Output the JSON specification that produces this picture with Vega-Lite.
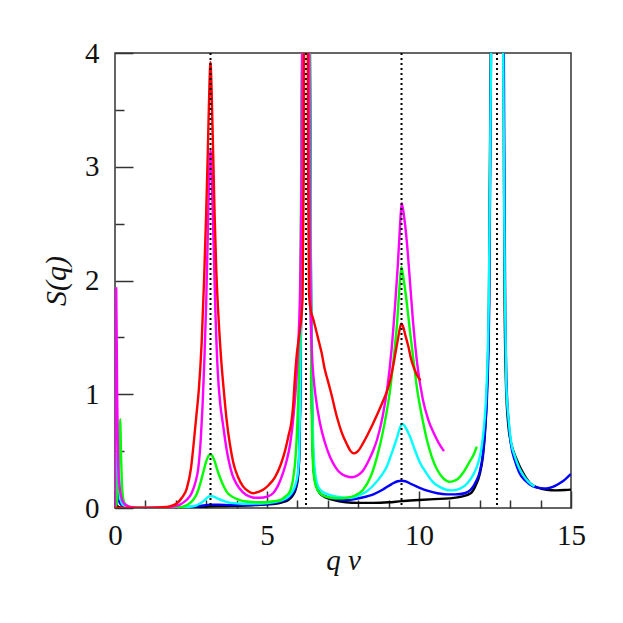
{
"$schema": "https://vega.github.io/schema/vega-lite/v6.json",
"width": 456, "height": 455,
"autosize": {"type": "none"},
"padding": {"left": 115, "top": 53, "right": 52, "bottom": 115},
"background": "white",
"config": {
 "view": {"stroke": "#333", "strokeWidth": 1.5},
 "axis": {"domain": false, "grid": false, "labelFont": "Liberation Serif", "labelFontSize": 29, "labelColor": "#111",
  "titleFont": "Liberation Serif", "titleFontSize": 30, "titleFontWeight": "normal", "titleFontStyle": "italic", "titleColor": "#111",
  "tickColor": "#333", "tickWidth": 1.5, "labelFlush": false, "labelOverlap": false}
},
"datasets": {
 "curves": [
{"c":"k","q":0,"S":0},{"c":"k","q":0.03,"S":0.06},{"c":"k","q":0.07,"S":0.02},{"c":"k","q":0.15,"S":0.005},{"c":"k","q":0.5,"S":0},{"c":"k","q":1,"S":0},{"c":"k","q":2,"S":0.003},{"c":"k","q":2.6,"S":0.008},{"c":"k","q":3.14,"S":0.015},{"c":"k","q":3.7,"S":0.018},{"c":"k","q":4.3,"S":0.022},{"c":"k","q":4.8,"S":0.028},{"c":"k","q":5.2,"S":0.035},{"c":"k","q":5.5,"S":0.05},{"c":"k","q":5.7,"S":0.07},{"c":"k","q":5.85,"S":0.11},{"c":"k","q":5.95,"S":0.17},{"c":"k","q":6.02,"S":0.27},{"c":"k","q":6.06,"S":0.45},{"c":"k","q":6.09,"S":0.9},{"c":"k","q":6.12,"S":1.7},{"c":"k","q":6.16,"S":4},{"c":"k","q":6.2,"S":8},{"c":"k","q":6.24,"S":15},{"c":"k","q":6.283,"S":30},{"c":"k","q":6.33,"S":15},{"c":"k","q":6.37,"S":8},{"c":"k","q":6.41,"S":4},{"c":"k","q":6.45,"S":1.7},{"c":"k","q":6.48,"S":0.9},{"c":"k","q":6.51,"S":0.5},{"c":"k","q":6.55,"S":0.3},{"c":"k","q":6.62,"S":0.2},{"c":"k","q":6.74,"S":0.13},{"c":"k","q":6.95,"S":0.09},{"c":"k","q":7.2,"S":0.07},{"c":"k","q":7.6,"S":0.05},{"c":"k","q":8.0,"S":0.045},{"c":"k","q":8.5,"S":0.045},{"c":"k","q":9.0,"S":0.05},{"c":"k","q":9.42,"S":0.06},{"c":"k","q":10.0,"S":0.07},{"c":"k","q":10.5,"S":0.078},{"c":"k","q":11.0,"S":0.085},{"c":"k","q":11.4,"S":0.1},{"c":"k","q":11.7,"S":0.13},{"c":"k","q":11.85,"S":0.19},{"c":"k","q":12.0,"S":0.3},{"c":"k","q":12.1,"S":0.45},{"c":"k","q":12.17,"S":0.66},{"c":"k","q":12.23,"S":1.0},{"c":"k","q":12.3,"S":1.8},{"c":"k","q":12.36,"S":4},{"c":"k","q":12.45,"S":10},{"c":"k","q":12.566,"S":30},{"c":"k","q":12.69,"S":10},{"c":"k","q":12.78,"S":4},{"c":"k","q":12.81,"S":2},{"c":"k","q":12.86,"S":1.1},{"c":"k","q":12.93,"S":0.75},{"c":"k","q":13.02,"S":0.58},{"c":"k","q":13.12,"S":0.49},{"c":"k","q":13.24,"S":0.41},{"c":"k","q":13.4,"S":0.32},{"c":"k","q":13.65,"S":0.22},{"c":"k","q":13.9,"S":0.18},{"c":"k","q":14.2,"S":0.16},{"c":"k","q":14.5,"S":0.155},{"c":"k","q":14.8,"S":0.158},{"c":"k","q":15,"S":0.162},
{"c":"b","q":0,"S":0},{"c":"b","q":0.03,"S":0.15},{"c":"b","q":0.06,"S":0.16},{"c":"b","q":0.1,"S":0.08},{"c":"b","q":0.15,"S":0.05},{"c":"b","q":0.2,"S":0.03},{"c":"b","q":0.3,"S":0.015},{"c":"b","q":0.45,"S":0.006},{"c":"b","q":0.7,"S":0.001},{"c":"b","q":1.5,"S":0},{"c":"b","q":2.2,"S":0.004},{"c":"b","q":2.6,"S":0.012},{"c":"b","q":2.9,"S":0.022},{"c":"b","q":3.14,"S":0.03},{"c":"b","q":3.4,"S":0.03},{"c":"b","q":3.8,"S":0.025},{"c":"b","q":4.3,"S":0.026},{"c":"b","q":4.8,"S":0.032},{"c":"b","q":5.2,"S":0.042},{"c":"b","q":5.5,"S":0.06},{"c":"b","q":5.7,"S":0.085},{"c":"b","q":5.85,"S":0.13},{"c":"b","q":5.95,"S":0.19},{"c":"b","q":6.02,"S":0.29},{"c":"b","q":6.06,"S":0.47},{"c":"b","q":6.09,"S":0.9},{"c":"b","q":6.12,"S":1.7},{"c":"b","q":6.16,"S":4},{"c":"b","q":6.2,"S":8},{"c":"b","q":6.24,"S":15},{"c":"b","q":6.283,"S":30},{"c":"b","q":6.33,"S":15},{"c":"b","q":6.37,"S":8},{"c":"b","q":6.41,"S":4},{"c":"b","q":6.45,"S":1.7},{"c":"b","q":6.48,"S":0.9},{"c":"b","q":6.51,"S":0.5},{"c":"b","q":6.55,"S":0.3},{"c":"b","q":6.62,"S":0.2},{"c":"b","q":6.74,"S":0.13},{"c":"b","q":6.95,"S":0.1},{"c":"b","q":7.2,"S":0.08},{"c":"b","q":7.5,"S":0.07},{"c":"b","q":7.8,"S":0.075},{"c":"b","q":8.1,"S":0.09},{"c":"b","q":8.5,"S":0.12},{"c":"b","q":8.8,"S":0.16},{"c":"b","q":9.1,"S":0.21},{"c":"b","q":9.3,"S":0.235},{"c":"b","q":9.42,"S":0.24},{"c":"b","q":9.55,"S":0.235},{"c":"b","q":9.75,"S":0.21},{"c":"b","q":10.0,"S":0.18},{"c":"b","q":10.3,"S":0.15},{"c":"b","q":10.6,"S":0.13},{"c":"b","q":10.9,"S":0.12},{"c":"b","q":11.2,"S":0.12},{"c":"b","q":11.5,"S":0.13},{"c":"b","q":11.7,"S":0.16},{"c":"b","q":11.85,"S":0.22},{"c":"b","q":12.0,"S":0.32},{"c":"b","q":12.1,"S":0.47},{"c":"b","q":12.17,"S":0.68},{"c":"b","q":12.24,"S":1.0},{"c":"b","q":12.31,"S":1.8},{"c":"b","q":12.37,"S":4},{"c":"b","q":12.46,"S":10},{"c":"b","q":12.566,"S":30},{"c":"b","q":12.68,"S":10},{"c":"b","q":12.79,"S":4},{"c":"b","q":12.83,"S":2},{"c":"b","q":12.88,"S":1.1},{"c":"b","q":12.95,"S":0.75},{"c":"b","q":13.03,"S":0.55},{"c":"b","q":13.15,"S":0.42},{"c":"b","q":13.3,"S":0.31},{"c":"b","q":13.5,"S":0.24},{"c":"b","q":13.75,"S":0.19},{"c":"b","q":14.0,"S":0.175},{"c":"b","q":14.2,"S":0.172},{"c":"b","q":14.4,"S":0.185},{"c":"b","q":14.64,"S":0.22},{"c":"b","q":14.8,"S":0.25},{"c":"b","q":15,"S":0.3},
{"c":"c","q":0,"S":0},{"c":"c","q":0.04,"S":0.15},{"c":"c","q":0.09,"S":0.5},{"c":"c","q":0.13,"S":0.3},{"c":"c","q":0.18,"S":0.08},{"c":"c","q":0.25,"S":0.03},{"c":"c","q":0.4,"S":0.01},{"c":"c","q":0.7,"S":0.002},{"c":"c","q":1.5,"S":0},{"c":"c","q":2.0,"S":0.003},{"c":"c","q":2.3,"S":0.008},{"c":"c","q":2.57,"S":0.015},{"c":"c","q":2.8,"S":0.04},{"c":"c","q":2.95,"S":0.07},{"c":"c","q":3.05,"S":0.095},{"c":"c","q":3.14,"S":0.105},{"c":"c","q":3.25,"S":0.1},{"c":"c","q":3.4,"S":0.08},{"c":"c","q":3.6,"S":0.06},{"c":"c","q":3.8,"S":0.045},{"c":"c","q":4.2,"S":0.038},{"c":"c","q":4.8,"S":0.04},{"c":"c","q":5.2,"S":0.05},{"c":"c","q":5.5,"S":0.07},{"c":"c","q":5.7,"S":0.1},{"c":"c","q":5.85,"S":0.15},{"c":"c","q":5.95,"S":0.22},{"c":"c","q":6.02,"S":0.32},{"c":"c","q":6.06,"S":0.5},{"c":"c","q":6.09,"S":0.95},{"c":"c","q":6.12,"S":1.8},{"c":"c","q":6.16,"S":4},{"c":"c","q":6.2,"S":8},{"c":"c","q":6.24,"S":15},{"c":"c","q":6.283,"S":30},{"c":"c","q":6.33,"S":15},{"c":"c","q":6.37,"S":8},{"c":"c","q":6.41,"S":4},{"c":"c","q":6.45,"S":1.8},{"c":"c","q":6.49,"S":0.95},{"c":"c","q":6.53,"S":0.5},{"c":"c","q":6.58,"S":0.32},{"c":"c","q":6.64,"S":0.22},{"c":"c","q":6.75,"S":0.16},{"c":"c","q":7.0,"S":0.12},{"c":"c","q":7.3,"S":0.1},{"c":"c","q":7.6,"S":0.09},{"c":"c","q":7.85,"S":0.095},{"c":"c","q":8.1,"S":0.12},{"c":"c","q":8.3,"S":0.15},{"c":"c","q":8.5,"S":0.2},{"c":"c","q":8.75,"S":0.28},{"c":"c","q":8.95,"S":0.37},{"c":"c","q":9.1,"S":0.48},{"c":"c","q":9.28,"S":0.62},{"c":"c","q":9.38,"S":0.71},{"c":"c","q":9.46,"S":0.74},{"c":"c","q":9.55,"S":0.71},{"c":"c","q":9.7,"S":0.63},{"c":"c","q":9.85,"S":0.52},{"c":"c","q":10.03,"S":0.4},{"c":"c","q":10.26,"S":0.3},{"c":"c","q":10.45,"S":0.23},{"c":"c","q":10.65,"S":0.19},{"c":"c","q":10.9,"S":0.16},{"c":"c","q":11.1,"S":0.155},{"c":"c","q":11.35,"S":0.17},{"c":"c","q":11.6,"S":0.22},{"c":"c","q":11.8,"S":0.3},{"c":"c","q":11.95,"S":0.4},{"c":"c","q":12.05,"S":0.52},{"c":"c","q":12.15,"S":0.75},{"c":"c","q":12.22,"S":1.05},{"c":"c","q":12.3,"S":1.9},{"c":"c","q":12.37,"S":4},{"c":"c","q":12.46,"S":10},{"c":"c","q":12.566,"S":30},{"c":"c","q":12.67,"S":10},{"c":"c","q":12.77,"S":4},{"c":"c","q":12.82,"S":2},{"c":"c","q":12.87,"S":1.1},{"c":"c","q":12.94,"S":0.8},{"c":"c","q":13.03,"S":0.58},{"c":"c","q":13.16,"S":0.45},{"c":"c","q":13.3,"S":0.35},{"c":"c","q":13.45,"S":0.28},{"c":"c","q":13.6,"S":0.23},{"c":"c","q":13.8,"S":0.19},
{"c":"g","q":0,"S":0},{"c":"g","q":0.05,"S":0.03},{"c":"g","q":0.1,"S":0.2},{"c":"g","q":0.14,"S":0.55},{"c":"g","q":0.17,"S":0.78},{"c":"g","q":0.2,"S":0.45},{"c":"g","q":0.24,"S":0.15},{"c":"g","q":0.3,"S":0.05},{"c":"g","q":0.4,"S":0.02},{"c":"g","q":0.6,"S":0.005},{"c":"g","q":1.0,"S":0},{"c":"g","q":1.6,"S":0},{"c":"g","q":2.0,"S":0.004},{"c":"g","q":2.24,"S":0.012},{"c":"g","q":2.4,"S":0.03},{"c":"g","q":2.57,"S":0.07},{"c":"g","q":2.7,"S":0.13},{"c":"g","q":2.8,"S":0.21},{"c":"g","q":2.9,"S":0.31},{"c":"g","q":3.0,"S":0.41},{"c":"g","q":3.08,"S":0.46},{"c":"g","q":3.14,"S":0.47},{"c":"g","q":3.2,"S":0.46},{"c":"g","q":3.28,"S":0.41},{"c":"g","q":3.36,"S":0.34},{"c":"g","q":3.45,"S":0.27},{"c":"g","q":3.56,"S":0.2},{"c":"g","q":3.68,"S":0.14},{"c":"g","q":3.85,"S":0.1},{"c":"g","q":4.1,"S":0.07},{"c":"g","q":4.4,"S":0.055},{"c":"g","q":4.77,"S":0.05},{"c":"g","q":5.1,"S":0.055},{"c":"g","q":5.43,"S":0.07},{"c":"g","q":5.6,"S":0.1},{"c":"g","q":5.76,"S":0.15},{"c":"g","q":5.86,"S":0.26},{"c":"g","q":5.94,"S":0.45},{"c":"g","q":6.0,"S":0.75},{"c":"g","q":6.05,"S":1.2},{"c":"g","q":6.1,"S":2.0},{"c":"g","q":6.15,"S":4},{"c":"g","q":6.2,"S":8},{"c":"g","q":6.24,"S":15},{"c":"g","q":6.283,"S":30},{"c":"g","q":6.33,"S":15},{"c":"g","q":6.37,"S":8},{"c":"g","q":6.41,"S":3.5},{"c":"g","q":6.45,"S":1.4},{"c":"g","q":6.48,"S":0.7},{"c":"g","q":6.52,"S":0.35},{"c":"g","q":6.58,"S":0.22},{"c":"g","q":6.68,"S":0.15},{"c":"g","q":6.84,"S":0.11},{"c":"g","q":7.1,"S":0.09},{"c":"g","q":7.4,"S":0.085},{"c":"g","q":7.63,"S":0.09},{"c":"g","q":7.9,"S":0.11},{"c":"g","q":8.16,"S":0.16},{"c":"g","q":8.4,"S":0.27},{"c":"g","q":8.62,"S":0.45},{"c":"g","q":8.85,"S":0.72},{"c":"g","q":9.05,"S":1.04},{"c":"g","q":9.18,"S":1.35},{"c":"g","q":9.28,"S":1.63},{"c":"g","q":9.36,"S":1.95},{"c":"g","q":9.42,"S":2.12},{"c":"g","q":9.5,"S":2.0},{"c":"g","q":9.6,"S":1.8},{"c":"g","q":9.7,"S":1.56},{"c":"g","q":9.82,"S":1.3},{"c":"g","q":9.93,"S":1.06},{"c":"g","q":10.1,"S":0.8},{"c":"g","q":10.26,"S":0.6},{"c":"g","q":10.42,"S":0.45},{"c":"g","q":10.59,"S":0.34},{"c":"g","q":10.8,"S":0.26},{"c":"g","q":11.02,"S":0.23},{"c":"g","q":11.25,"S":0.25},{"c":"g","q":11.45,"S":0.31},{"c":"g","q":11.65,"S":0.4},{"c":"g","q":11.8,"S":0.47},{"c":"g","q":11.9,"S":0.54},
{"c":"m","q":0,"S":0},{"c":"m","q":0.02,"S":1.0},{"c":"m","q":0.04,"S":1.93},{"c":"m","q":0.07,"S":1.0},{"c":"m","q":0.1,"S":0.45},{"c":"m","q":0.13,"S":0.25},{"c":"m","q":0.17,"S":0.15},{"c":"m","q":0.22,"S":0.08},{"c":"m","q":0.3,"S":0.04},{"c":"m","q":0.4,"S":0.02},{"c":"m","q":0.6,"S":0.005},{"c":"m","q":1.0,"S":0},{"c":"m","q":1.6,"S":0.004},{"c":"m","q":1.9,"S":0.012},{"c":"m","q":2.14,"S":0.03},{"c":"m","q":2.35,"S":0.07},{"c":"m","q":2.52,"S":0.13},{"c":"m","q":2.65,"S":0.23},{"c":"m","q":2.74,"S":0.35},{"c":"m","q":2.82,"S":0.6},{"c":"m","q":2.88,"S":0.9},{"c":"m","q":2.94,"S":1.3},{"c":"m","q":3.0,"S":1.8},{"c":"m","q":3.06,"S":2.5},{"c":"m","q":3.1,"S":2.95},{"c":"m","q":3.14,"S":3.15},{"c":"m","q":3.18,"S":2.95},{"c":"m","q":3.23,"S":2.45},{"c":"m","q":3.3,"S":1.75},{"c":"m","q":3.38,"S":1.2},{"c":"m","q":3.46,"S":0.92},{"c":"m","q":3.56,"S":0.72},{"c":"m","q":3.65,"S":0.55},{"c":"m","q":3.73,"S":0.43},{"c":"m","q":3.85,"S":0.3},{"c":"m","q":4.0,"S":0.21},{"c":"m","q":4.2,"S":0.14},{"c":"m","q":4.44,"S":0.1},{"c":"m","q":4.6,"S":0.09},{"c":"m","q":4.77,"S":0.09},{"c":"m","q":5.0,"S":0.1},{"c":"m","q":5.2,"S":0.13},{"c":"m","q":5.35,"S":0.19},{"c":"m","q":5.53,"S":0.31},{"c":"m","q":5.65,"S":0.42},{"c":"m","q":5.76,"S":0.56},{"c":"m","q":5.87,"S":0.8},{"c":"m","q":5.96,"S":1.1},{"c":"m","q":6.04,"S":1.5},{"c":"m","q":6.1,"S":2.1},{"c":"m","q":6.15,"S":3.5},{"c":"m","q":6.2,"S":8},{"c":"m","q":6.24,"S":15},{"c":"m","q":6.283,"S":30},{"c":"m","q":6.33,"S":15},{"c":"m","q":6.37,"S":6},{"c":"m","q":6.4,"S":3},{"c":"m","q":6.44,"S":1.7},{"c":"m","q":6.48,"S":1.35},{"c":"m","q":6.53,"S":1.15},{"c":"m","q":6.6,"S":0.98},{"c":"m","q":6.74,"S":0.75},{"c":"m","q":6.9,"S":0.58},{"c":"m","q":7.07,"S":0.45},{"c":"m","q":7.25,"S":0.36},{"c":"m","q":7.4,"S":0.31},{"c":"m","q":7.6,"S":0.28},{"c":"m","q":7.8,"S":0.27},{"c":"m","q":8.0,"S":0.29},{"c":"m","q":8.16,"S":0.33},{"c":"m","q":8.35,"S":0.42},{"c":"m","q":8.5,"S":0.51},{"c":"m","q":8.62,"S":0.6},{"c":"m","q":8.8,"S":0.8},{"c":"m","q":8.95,"S":1.04},{"c":"m","q":9.1,"S":1.4},{"c":"m","q":9.21,"S":1.77},{"c":"m","q":9.3,"S":2.12},{"c":"m","q":9.38,"S":2.5},{"c":"m","q":9.43,"S":2.68},{"c":"m","q":9.5,"S":2.58},{"c":"m","q":9.6,"S":2.34},{"c":"m","q":9.7,"S":2.0},{"c":"m","q":9.8,"S":1.65},{"c":"m","q":9.95,"S":1.25},{"c":"m","q":10.13,"S":0.95},{"c":"m","q":10.3,"S":0.78},{"c":"m","q":10.5,"S":0.65},{"c":"m","q":10.65,"S":0.57},{"c":"m","q":10.82,"S":0.5},
{"c":"r","q":0,"S":0},{"c":"r","q":0.5,"S":0},{"c":"r","q":1.2,"S":0.001},{"c":"r","q":1.5,"S":0.005},{"c":"r","q":1.8,"S":0.015},{"c":"r","q":2.03,"S":0.04},{"c":"r","q":2.2,"S":0.09},{"c":"r","q":2.36,"S":0.17},{"c":"r","q":2.5,"S":0.35},{"c":"r","q":2.6,"S":0.6},{"c":"r","q":2.68,"S":0.82},{"c":"r","q":2.76,"S":1.05},{"c":"r","q":2.85,"S":1.45},{"c":"r","q":2.93,"S":2.0},{"c":"r","q":3.0,"S":2.6},{"c":"r","q":3.05,"S":3.1},{"c":"r","q":3.1,"S":3.65},{"c":"r","q":3.14,"S":3.92},{"c":"r","q":3.18,"S":3.65},{"c":"r","q":3.23,"S":3.1},{"c":"r","q":3.28,"S":2.55},{"c":"r","q":3.33,"S":2.1},{"c":"r","q":3.39,"S":1.75},{"c":"r","q":3.48,"S":1.35},{"c":"r","q":3.59,"S":1.0},{"c":"r","q":3.67,"S":0.78},{"c":"r","q":3.78,"S":0.56},{"c":"r","q":3.89,"S":0.4},{"c":"r","q":4.05,"S":0.27},{"c":"r","q":4.21,"S":0.19},{"c":"r","q":4.4,"S":0.145},{"c":"r","q":4.54,"S":0.13},{"c":"r","q":4.7,"S":0.14},{"c":"r","q":4.87,"S":0.16},{"c":"r","q":5.05,"S":0.2},{"c":"r","q":5.26,"S":0.27},{"c":"r","q":5.45,"S":0.38},{"c":"r","q":5.59,"S":0.5},{"c":"r","q":5.72,"S":0.65},{"c":"r","q":5.8,"S":0.75},{"c":"r","q":5.86,"S":0.9},{"c":"r","q":5.92,"S":1.15},{"c":"r","q":5.98,"S":1.35},{"c":"r","q":6.05,"S":1.5},{"c":"r","q":6.12,"S":1.65},{"c":"r","q":6.17,"S":1.85},{"c":"r","q":6.21,"S":3},{"c":"r","q":6.24,"S":8},{"c":"r","q":6.283,"S":30},{"c":"r","q":6.32,"S":8},{"c":"r","q":6.35,"S":3},{"c":"r","q":6.38,"S":1.9},{"c":"r","q":6.43,"S":1.75},{"c":"r","q":6.51,"S":1.67},{"c":"r","q":6.58,"S":1.6},{"c":"r","q":6.7,"S":1.47},{"c":"r","q":6.8,"S":1.36},{"c":"r","q":6.9,"S":1.22},{"c":"r","q":7.0,"S":1.12},{"c":"r","q":7.1,"S":1.02},{"c":"r","q":7.3,"S":0.8},{"c":"r","q":7.45,"S":0.67},{"c":"r","q":7.63,"S":0.56},{"c":"r","q":7.75,"S":0.5},{"c":"r","q":7.85,"S":0.48},{"c":"r","q":7.95,"S":0.49},{"c":"r","q":8.05,"S":0.52},{"c":"r","q":8.16,"S":0.57},{"c":"r","q":8.3,"S":0.64},{"c":"r","q":8.45,"S":0.72},{"c":"r","q":8.62,"S":0.82},{"c":"r","q":8.8,"S":0.93},{"c":"r","q":8.95,"S":1.03},{"c":"r","q":9.05,"S":1.12},{"c":"r","q":9.15,"S":1.25},{"c":"r","q":9.25,"S":1.4},{"c":"r","q":9.33,"S":1.52},{"c":"r","q":9.38,"S":1.59},{"c":"r","q":9.42,"S":1.62},{"c":"r","q":9.47,"S":1.6},{"c":"r","q":9.55,"S":1.52},{"c":"r","q":9.65,"S":1.42},{"c":"r","q":9.75,"S":1.3},{"c":"r","q":9.85,"S":1.22},{"c":"r","q":9.95,"S":1.16},{"c":"r","q":10.05,"S":1.12}
 ],
 "marks": [{"q":3.14159},{"q":6.28319},{"q":9.42478},{"q":12.56637}]
},
"layer": [
 {"data": {"name": "curves"},
  "mark": {"type": "line", "clip": true, "strokeWidth": 2.4, "interpolate": "monotone"},
  "encoding": {
   "x": {"field": "q", "type": "quantitative", "scale": {"domain": [0, 15], "nice": false},
    "axis": {"title": "q  v", "values": [0,1,2,3,4,5,6,7,8,9,10,11,12,13,14,15], "tickCount": 30,
     "labelExpr": "datum.value % 5 === 0 ? format(datum.value, 'd') : ''",
     "tickSize": {"condition": {"test": "datum.value % 5 === 0", "value": -17}, "value": -8},
     "labelOverlap": false, "labelFlush": false,
     "labelPadding": 30, "titleY": 61, "titleBaseline": "alphabetic", "titleFontSize": 29}},
   "y": {"field": "S", "type": "quantitative", "scale": {"domain": [0, 4], "nice": false},
    "axis": {"title": "S(q)", "values": [0,0.5,1,1.5,2,2.5,3,3.5,4], "tickCount": 30,
     "labelExpr": "datum.value % 1 === 0 ? format(datum.value, 'd') : ''",
     "tickSize": {"condition": {"test": "datum.value % 1 === 0", "value": -18}, "value": -9},
     "labelOverlap": false,
     "labelPadding": 34, "titleX": -50, "titleY": 227.5, "titleAngle": -90, "titleBaseline": "alphabetic", "titleAlign": "center"}},
   "color": {"field": "c", "type": "nominal", "sort": ["k","b","c","g","m","r"],
    "scale": {"domain": ["k","b","c","g","m","r"], "range": ["#000000","#0000ff","#00ffff","#00ff00","#ff00ff","#ff0000"]}, "legend": null}
  }},
 {"data": {"name": "marks"},
  "mark": {"type": "rule", "color": "#000", "strokeWidth": 2, "strokeDash": [2, 3]},
  "encoding": {"x": {"field": "q", "type": "quantitative"}}}
]
}
